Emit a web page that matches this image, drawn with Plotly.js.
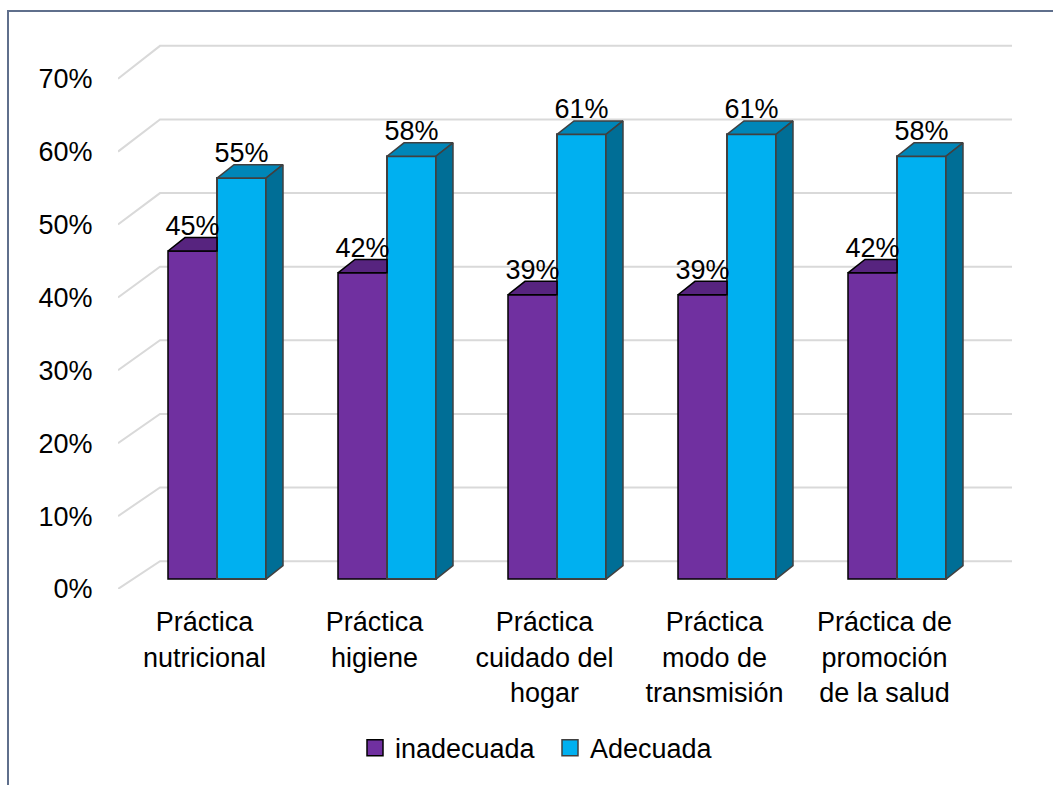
<!DOCTYPE html>
<html>
<head>
<meta charset="utf-8">
<script src="https://cdn.plot.ly/plotly-3.0.1.min.js"></script>
<style>html,body{margin:0;padding:0;background:#fff;}#chart{width:1053px;height:785px;}</style>
</head>
<body>
<div id="chart"></div>
<script>
// ---- data ----
const categories = ['Práctica<br>nutricional', 'Práctica<br>higiene', 'Práctica<br>cuidado del<br>hogar', 'Práctica<br>modo de<br>transmisión', 'Práctica de<br>promoción<br>de la salud'];
const seriesNames = ['inadecuada', 'Adecuada'];
const inadecuada = [45, 42, 39, 39, 42];
const adecuada = [55, 58, 61, 61, 58];
const yTicks = [0, 10, 20, 30, 40, 50, 60, 70];
const yTickText = ['0%', '10%', '20%', '30%', '40%', '50%', '60%', '70%'];

// ---- layout geometry (pixels) ----
const W = 1053, H = 785;
const M = {l: 118, r: 23, t: 20, b: 193};
const plotW = W - M.l - M.r, plotH = H - M.t - M.b;
const PX_X = 170;        // pixels per category
const PX_Y = 7.3286;     // pixels per percent
const firstCenterPx = 217;
const x0 = -(firstCenterPx - M.l) / PX_X;
const xRange = [x0, x0 + plotW / PX_X];
const yRange = [0, plotH / PX_Y];
const dx = p => p / PX_X;
const dy = p => p / PX_Y;

const barW = dx(49);
const base = dy(10);          // bar plane sits above the front plane
const DDX = dx(17), DDY = dy(13.5);   // bar depth
const idx = categories.map((_, i) => i);

const purple = '#7030A0', blue = '#00B0F0';
const purpleTop = '#57247F', blueTop = '#0086B8', blueSide = '#006E96';
const font = 'Liberation Sans, Arial, sans-serif';
const FS = 27;

function polyTrace(polys, fill, line) {
  const xs = [], ys = [];
  polys.forEach(p => { p.forEach(pt => { xs.push(pt[0]); ys.push(pt[1]); }); xs.push(p[0][0]); ys.push(p[0][1]); xs.push(null); ys.push(null); });
  return {type: 'scatter', mode: 'lines', x: xs, y: ys, fill: 'toself', fillcolor: fill,
          line: {color: line, width: 1.5}, hoverinfo: 'skip', showlegend: false};
}

const purpleTops = [], blueTops = [], blueSides = [];
idx.forEach(i => {
  const pt = base + inadecuada[i];
  const pl = i - barW, pr = i;
  purpleTops.push([[pl, pt], [pr, pt], [pr, pt + DDY], [pl + DDX, pt + DDY]]);
  const bt = base + adecuada[i];
  const bl = i, br = i + barW;
  blueTops.push([[bl, bt], [br, bt], [br + DDX, bt + DDY], [bl + DDX, bt + DDY]]);
  blueSides.push([[br, base], [br + DDX, base + DDY], [br + DDX, bt + DDY], [br, bt]]);
});

const traces = [
  {type: 'bar', name: seriesNames[0], x: idx, y: inadecuada, base: base, width: barW, offset: -barW,
   marker: {color: purple, line: {color: '#000000', width: 1.5}}, showlegend: false, hoverinfo: 'skip'},
  {type: 'bar', name: seriesNames[1], x: idx, y: adecuada, base: base, width: barW, offset: 0,
   marker: {color: blue, line: {color: '#404040', width: 2}}, showlegend: false, hoverinfo: 'skip'},
  polyTrace(purpleTops, purpleTop, '#000000'),
  polyTrace(blueTops, blueTop, '#404040'),
  polyTrace(blueSides, blueSide, '#404040'),
  {type: 'scatter', mode: 'text', x: idx.map(i => i - barW / 2), y: inadecuada.map(v => base + v + dy(23)),
   text: inadecuada.map(v => v + '%'), textposition: 'middle center', textfont: {family: font, size: FS, color: '#000'},
   cliponaxis: false, showlegend: false, hoverinfo: 'skip'},
  {type: 'scatter', mode: 'text', x: idx.map(i => i + barW / 2), y: adecuada.map(v => base + v + dy(23)),
   text: adecuada.map(v => v + '%'), textposition: 'middle center', textfont: {family: font, size: FS, color: '#000'},
   cliponaxis: false, showlegend: false, hoverinfo: 'skip'},
  {type: 'scatter', mode: 'markers', name: seriesNames[0], x: [null], y: [null],
   marker: {symbol: 'square', size: 16, color: purple, line: {color: '#000', width: 1.5}}},
  {type: 'scatter', mode: 'markers', name: seriesNames[1], x: [null], y: [null],
   marker: {symbol: 'square', size: 16, color: blue, line: {color: '#404040', width: 1.5}}}
];

// gridlines: front diagonal + back wall horizontal
const gridEndX = x0 + dx(1012 - M.l);
const shapes = yTicks.map(v => {
  const yb = v + dy(28 + 5 * v / 70);
  const xb = x0 + dx(42);
  return {type: 'path', xref: 'x', yref: 'y', layer: 'below',
    path: `M ${x0} ${v} L ${xb} ${yb} L ${gridEndX} ${yb}`,
    line: {color: '#D9D9D9', width: 2}};
});
// outer chart border
const px2paperX = p => (p - M.l) / plotW;
const px2paperY = p => (H - M.b - p) / plotH;
shapes.push({type: 'rect', xref: 'paper', yref: 'paper', layer: 'below',
  x0: px2paperX(8), x1: px2paperX(1100), y0: px2paperY(830), y1: px2paperY(11),
  line: {color: '#5F6F8C', width: 2}, fillcolor: 'rgba(0,0,0,0)'});

const layout = {
  width: W, height: H, margin: M,
  paper_bgcolor: '#ffffff', plot_bgcolor: 'rgba(0,0,0,0)',
  font: {family: font, size: FS, color: '#000'},
  barmode: 'overlay',
  showlegend: true,
  legend: {orientation: 'h', x: px2paperX(355), xanchor: 'left', y: px2paperY(752), yanchor: 'middle',
           font: {family: font, size: FS, color: '#000'}, entrywidth: 150, bgcolor: 'rgba(0,0,0,0)'},
  xaxis: {range: xRange, tickvals: idx.map(i => i - dx(12.5)), ticktext: categories,
          showgrid: false, zeroline: false, showline: false, ticks: 'outside', ticklen: 9,
          tickcolor: 'rgba(0,0,0,0)', tickfont: {family: font, size: FS}, fixedrange: true},
  yaxis: {range: yRange, tickvals: yTicks, ticktext: yTickText, showgrid: false, zeroline: false,
          showline: false, ticks: 'outside', ticklen: 19, tickcolor: 'rgba(0,0,0,0)',
          tickfont: {family: font, size: FS}, fixedrange: true},
  shapes: shapes
};

Plotly.newPlot('chart', traces, layout, {displayModeBar: false, staticPlot: true});
</script>
</body>
</html>
